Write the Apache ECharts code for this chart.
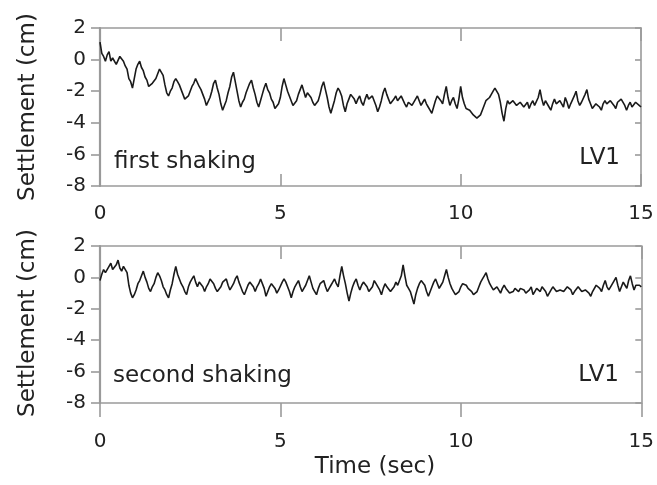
<!DOCTYPE html>
<html>
<head>
<meta charset="utf-8">
<script src="https://cdn.jsdelivr.net/npm/echarts@6/dist/echarts.min.js"></script>
<style>
html,body{margin:0;padding:0;background:#fff;}
#chart{width:657px;height:485px;}
</style>
</head>
<body>
<div id="chart"></div>
<script>
// Time stamps (sec)
const times = [
0.00,0.05,0.10,0.15,0.20,0.25,0.30,0.35,0.40,0.45,0.50,0.55,0.60,0.65,0.70,0.75,0.80,0.85,0.90,0.95,
1.00,1.05,1.10,1.15,1.20,1.25,1.30,1.35,1.40,1.45,1.50,1.55,1.60,1.65,1.70,1.75,1.80,1.85,1.90,1.95,
2.00,2.05,2.10,2.15,2.20,2.25,2.30,2.35,2.40,2.45,2.50,2.55,2.60,2.65,2.70,2.75,2.80,2.85,2.90,2.95,
3.00,3.05,3.10,3.15,3.20,3.25,3.30,3.35,3.40,3.45,3.50,3.55,3.60,3.65,3.70,3.75,3.80,3.85,3.90,3.95,
4.00,4.05,4.10,4.15,4.20,4.25,4.30,4.35,4.40,4.45,4.50,4.55,4.60,4.65,4.70,4.75,4.80,4.85,4.90,4.95,
5.00,5.05,5.10,5.15,5.20,5.25,5.30,5.35,5.40,5.45,5.50,5.55,5.60,5.65,5.70,5.75,5.80,5.85,5.90,5.95,
6.00,6.05,6.10,6.15,6.20,6.25,6.30,6.35,6.40,6.45,6.50,6.55,6.60,6.65,6.70,6.75,6.80,6.85,6.90,6.95,
7.00,7.05,7.10,7.15,7.20,7.25,7.30,7.35,7.40,7.45,7.50,7.55,7.60,7.65,7.70,7.75,7.80,7.85,7.90,7.95,
8.00,8.05,8.10,8.15,8.20,8.25,8.30,8.35,8.40,8.45,8.50,8.55,8.60,8.65,8.70,8.75,8.80,8.85,8.90,8.95,
9.00,9.05,9.10,9.15,9.20,9.25,9.30,9.35,9.40,9.45,9.50,9.55,9.60,9.65,9.70,9.75,9.80,9.85,9.90,9.95,
10.00,10.05,10.10,10.15,10.20,10.25,10.30,10.35,10.40,10.45,10.50,10.55,10.60,10.65,10.70,10.75,10.80,10.85,10.90,10.95,
11.00,11.05,11.10,11.15,11.20,11.25,11.30,11.35,11.40,11.45,11.50,11.55,11.60,11.65,11.70,11.75,11.80,11.85,11.90,11.95,
12.00,12.05,12.10,12.15,12.20,12.25,12.30,12.35,12.40,12.45,12.50,12.55,12.60,12.65,12.70,12.75,12.80,12.85,12.90,12.95,
13.00,13.05,13.10,13.15,13.20,13.25,13.30,13.35,13.40,13.45,13.50,13.55,13.60,13.65,13.70,13.75,13.80,13.85,13.90,13.95,
14.00,14.05,14.10,14.15,14.20,14.25,14.30,14.35,14.40,14.45,14.50,14.55,14.60,14.65,14.70,14.75,14.80,14.85,14.90,14.95,
15.00
];

// Settlement (cm), first shaking
const firstShaking = [
1.1,0.4,0.2,-0.1,0.3,0.5,-0.1,0.1,0.2,-0.3,-0.2,0.2,0.3,-0.1,-0.4,-0.6,-1.2,-1.4,-1.8,-1.2,
-0.6,-0.3,-0.1,-0.5,-0.7,-1.1,-1.3,-1.7,-1.8,-1.5,-1.4,-1.2,-0.9,-0.6,-0.5,-1.0,-1.6,-2.1,-2.3,-2.0,
-1.8,-1.4,-1.2,-1.4,-1.6,-1.9,-2.2,-2.5,-2.6,-2.3,-2.0,-1.7,-1.5,-1.2,-1.3,-1.7,-1.9,-2.2,-2.5,-2.9,
-2.8,-2.4,-2.0,-1.5,-1.3,-1.8,-2.2,-2.8,-3.2,-2.9,-2.6,-2.1,-1.7,-1.1,-0.8,-1.4,-2.0,-2.6,-3.0,-2.7,
-2.5,-2.1,-1.8,-1.5,-1.3,-1.8,-2.2,-2.7,-3.0,-2.6,-2.2,-1.8,-1.5,-1.9,-2.1,-2.5,-2.7,-3.1,-3.2,-2.8,
-2.4,-1.7,-1.2,-1.6,-2.0,-2.3,-2.6,-2.9,-3.0,-2.6,-2.2,-1.9,-1.6,-2.0,-2.4,-2.1,-2.0,-2.4,-2.7,-2.9,
-3.0,-2.6,-2.2,-1.7,-1.4,-1.9,-2.4,-3.0,-3.4,-3.0,-2.6,-2.1,-1.8,-2.0,-2.3,-2.9,-3.3,-2.8,-2.5,-2.2,
-2.1,-2.5,-2.8,-2.5,-2.3,-2.7,-2.9,-2.5,-2.2,-2.5,-2.6,-2.3,-2.4,-2.9,-3.3,-3.0,-2.6,-2.1,-1.8,-2.2,
-2.5,-2.8,-2.9,-2.5,-2.3,-2.6,-2.7,-2.3,-2.4,-2.8,-3.0,-2.7,-2.6,-2.9,-2.8,-2.5,-2.3,-2.6,-2.9,-2.7,
-2.5,-2.8,-3.0,-3.2,-3.4,-3.0,-2.6,-2.3,-2.2,-2.6,-2.8,-2.2,-1.7,-2.4,-2.9,-2.6,-2.4,-2.8,-3.1,-2.5,
-1.7,-2.4,-2.8,-3.1,-3.0,-3.2,-3.3,-3.5,-3.6,-3.7,-3.8,-3.5,-3.2,-2.9,-2.6,-2.5,-2.4,-2.2,-2.0,-1.8,
-1.7,-2.2,-2.7,-3.4,-3.9,-3.1,-2.6,-2.8,-2.9,-2.6,-2.7,-2.9,-3.0,-2.7,-2.8,-3.0,-2.9,-2.7,-3.1,-2.8,
-2.6,-2.9,-2.8,-2.4,-1.9,-2.5,-2.9,-2.6,-2.7,-3.0,-3.2,-2.8,-2.5,-2.8,-2.9,-2.6,-2.8,-3.0,-2.4,-2.7,
-3.1,-2.8,-2.7,-2.3,-2.0,-2.6,-2.9,-2.7,-2.6,-2.2,-1.9,-2.5,-2.8,-3.1,-3.0,-2.8,-2.7,-3.0,-3.2,-2.8,
-2.6,-2.8,-2.9,-2.6,-2.5,-2.9,-3.1,-2.7,-2.8,-2.5,-2.4,-2.9,-3.2,-2.9,-2.7,-3.0,-3.0,-2.7,-2.6,-2.9,
-3.0
];

// Settlement (cm), second shaking
const secondShaking = [
-0.2,0.2,0.5,0.3,0.3,0.7,0.9,0.5,0.4,0.8,1.1,0.6,0.4,0.7,0.8,0.3,-0.5,-1.0,-1.3,-1.1,
-0.8,-0.4,-0.2,0.1,0.4,0.0,-0.3,-0.7,-0.9,-0.6,-0.4,0.0,0.3,0.1,-0.2,-0.6,-0.8,-1.1,-1.3,-0.8,
-0.4,0.2,0.7,0.2,-0.1,-0.4,-0.6,-0.9,-1.1,-0.6,-0.3,-0.1,0.1,-0.3,-0.6,-0.3,-0.2,-0.6,-0.9,-0.6,
-0.4,-0.1,0.0,-0.4,-0.7,-0.9,-1.0,-0.6,-0.3,-0.2,-0.1,-0.5,-0.8,-0.6,-0.4,-0.1,0.1,-0.3,-0.6,-0.9,
-1.1,-0.8,-0.5,-0.3,-0.2,-0.6,-0.9,-0.6,-0.4,-0.1,0.0,-0.7,-1.2,-0.9,-0.6,-0.4,-0.3,-0.7,-1.0,-0.8,
-0.7,-0.3,-0.1,-0.3,-0.4,-0.9,-1.3,-0.9,-0.6,-0.4,-0.2,-0.6,-0.9,-0.7,-0.5,-0.2,0.1,-0.3,-0.7,-0.9,
-1.1,-0.7,-0.4,-0.3,-0.2,-0.6,-0.9,-0.7,-0.5,-0.3,-0.1,-0.4,-0.6,0.1,0.7,0.1,-0.4,-1.0,-1.5,-1.0,
-0.6,-0.3,-0.1,-0.5,-0.8,-0.5,-0.3,-0.4,-0.6,-0.9,-1.0,-0.6,-0.2,-0.4,-0.5,-0.8,-1.1,-0.7,-0.4,-0.6,
-0.7,-0.9,-1.0,-0.6,-0.3,-0.5,-0.6,0.1,0.8,0.1,-0.5,-0.7,-0.9,-1.3,-1.7,-1.1,-0.7,-0.4,-0.2,-0.3,
-0.5,-0.9,-1.2,-0.9,-0.6,-0.3,-0.1,-0.4,-0.7,-0.5,-0.3,0.1,0.5,0.0,-0.4,-0.7,-0.9,-1.1,-1.2,-0.9,
-0.6,-0.4,-0.3,-0.5,-0.7,-0.8,-0.9,-1.1,-1.2,-0.9,-0.6,-0.3,-0.1,0.1,0.3,-0.1,-0.4,-0.6,-0.8,-0.7,
-0.6,-0.8,-1.0,-0.7,-0.5,-0.7,-0.8,-1.0,-1.1,-0.9,-0.7,-0.8,-0.9,-0.7,-0.6,-0.8,-1.0,-0.9,-0.8,-0.6,
-1.1,-0.9,-0.7,-0.8,-0.9,-0.6,-0.5,-0.9,-1.2,-1.0,-0.8,-0.6,-0.6,-0.9,-1.0,-0.8,-0.7,-0.9,-0.9,-0.6,
-0.5,-0.8,-1.1,-0.9,-0.8,-0.6,-0.6,-0.9,-1.0,-0.8,-0.7,-1.0,-1.2,-0.9,-0.8,-0.5,-0.4,-0.7,-0.9,-0.5,
-0.2,-0.6,-0.8,-0.6,-0.5,-0.2,0.0,-0.5,-0.9,-0.6,-0.3,-0.5,-0.7,-0.2,0.1,-0.4,-0.8,-0.5,-0.4,-0.5,
-0.6
];

// Axis ticks
const xTicks = [0, 5, 10, 15];
const yTicks = [-8, -6, -4, -2, 0, 2];

const panelLabels = ['first shaking', 'second shaking'];
const caseLabel = 'LV1';
const yTitle = 'Settlement (cm)';
const xTitle = 'Time (sec)';

const chart = echarts.init(document.getElementById('chart'), null, {renderer: 'canvas'});

const FONT = 'DejaVu Sans';
const AX = '#9a9a9a';
const TXT = '#222';

function xAxes(gi, bottomTickInside, bottomTickLen, labelMargin) {
  return [
    {
      type: 'value', gridIndex: gi, position: 'bottom',
      min: xTicks[0], max: xTicks[xTicks.length - 1], interval: xTicks[1] - xTicks[0],
      axisLine: {show: true, onZero: false, lineStyle: {color: AX, width: 1.6}},
      axisTick: {show: true, inside: bottomTickInside, length: bottomTickLen, lineStyle: {color: AX, width: 1.6}},
      axisLabel: {show: true, margin: labelMargin, color: TXT, fontFamily: FONT, fontSize: 20},
      splitLine: {show: false}
    },
    {
      type: 'value', gridIndex: gi, position: 'top',
      min: xTicks[0], max: xTicks[xTicks.length - 1], interval: xTicks[1] - xTicks[0],
      axisLine: {show: true, onZero: false, lineStyle: {color: AX, width: 1.6}},
      axisTick: {show: true, inside: true, length: 13, lineStyle: {color: AX, width: 1.6}},
      axisLabel: {show: false},
      splitLine: {show: false}
    }
  ];
}

function yAxes(gi) {
  return [
    {
      type: 'value', gridIndex: gi, position: 'left',
      min: yTicks[0], max: yTicks[yTicks.length - 1], interval: yTicks[1] - yTicks[0],
      axisLine: {show: true, onZero: false, lineStyle: {color: AX, width: 2.2}},
      axisTick: {show: true, inside: false, length: 9, lineStyle: {color: AX, width: 1.6}},
      axisLabel: {show: true, margin: 14, color: TXT, fontFamily: FONT, fontSize: 20},
      splitLine: {show: false}
    },
    {
      type: 'value', gridIndex: gi, position: 'right',
      min: yTicks[0], max: yTicks[yTicks.length - 1], interval: yTicks[1] - yTicks[0],
      axisLine: {show: true, onZero: false, lineStyle: {color: AX, width: 1.6}},
      axisTick: {show: true, inside: true, length: 6, lineStyle: {color: AX, width: 1.6}},
      axisLabel: {show: false},
      splitLine: {show: false}
    }
  ];
}

const s1 = times.map((t, i) => [t, firstShaking[i]]);
const s2 = times.map((t, i) => [t, secondShaking[i]]);

const lineStyle = {color: '#1a1a1a', width: 1.6};

const option = {
  animation: false,
  backgroundColor: '#fff',
  grid: [
    {left: 100, top: 28, width: 541, height: 158},
    {left: 100, top: 246, width: 542, height: 157}
  ],
  xAxis: [].concat(xAxes(0, true, 12, 18), xAxes(1, false, 14, 29)),
  yAxis: [].concat(yAxes(0), yAxes(1)),
  series: [
    {type: 'line', xAxisIndex: 0, yAxisIndex: 0, data: s1, showSymbol: false, symbol: 'none', lineStyle: lineStyle, z: 3},
    {type: 'line', xAxisIndex: 2, yAxisIndex: 2, data: s2, showSymbol: false, symbol: 'none', lineStyle: lineStyle, z: 3}
  ],
  graphic: [
    {type: 'text', x: 28, y: 107, rotation: Math.PI / 2,
     style: {text: yTitle, font: '23px "DejaVu Sans"', fill: TXT, textAlign: 'center', textVerticalAlign: 'middle'}},
    {type: 'text', x: 28, y: 323, rotation: Math.PI / 2,
     style: {text: yTitle, font: '23px "DejaVu Sans"', fill: TXT, textAlign: 'center', textVerticalAlign: 'middle'}},
    {type: 'text', x: 375, y: 467,
     style: {text: xTitle, font: '23px "DejaVu Sans"', fill: TXT, textAlign: 'center', textVerticalAlign: 'middle'}},
    {type: 'text', x: 114, y: 162,
     style: {text: panelLabels[0], font: '23px "DejaVu Sans"', fill: TXT, textAlign: 'left', textVerticalAlign: 'middle'}},
    {type: 'text', x: 113, y: 376,
     style: {text: panelLabels[1], font: '23px "DejaVu Sans"', fill: TXT, textAlign: 'left', textVerticalAlign: 'middle'}},
    {type: 'text', x: 620, y: 158,
     style: {text: caseLabel, font: '23px "DejaVu Sans"', fill: TXT, textAlign: 'right', textVerticalAlign: 'middle'}},
    {type: 'text', x: 619, y: 375,
     style: {text: caseLabel, font: '23px "DejaVu Sans"', fill: TXT, textAlign: 'right', textVerticalAlign: 'middle'}}
  ]
};

chart.setOption(option);
</script>
</body>
</html>
